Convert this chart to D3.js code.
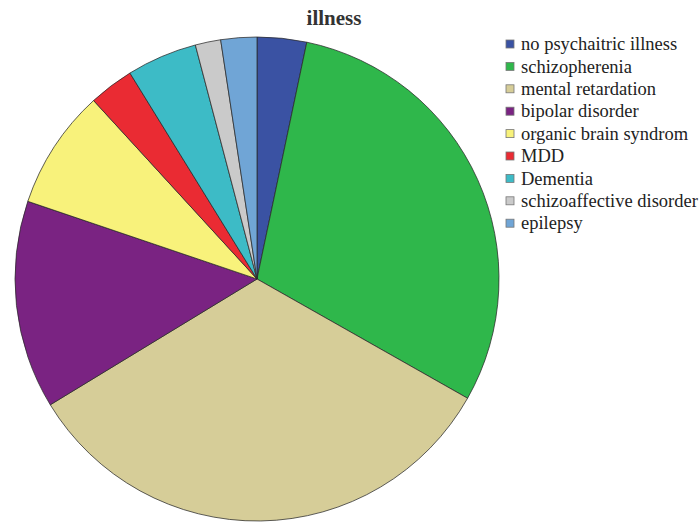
<!DOCTYPE html>
<html>
<head>
<meta charset="utf-8">
<script src="https://cdn.jsdelivr.net/npm/d3@7"></script>
<style>
  html, body { margin: 0; padding: 0; background: #fff; }
  svg { display: block; }
  text { font-family: "Liberation Serif", "Times New Roman", Times, "DejaVu Serif", serif; }
</style>
</head>
<body>
<svg id="chart" width="699" height="523"></svg>
<script>
// Data (percent of cases)
const categories = [
  "no psychaitric illness",
  "schizopherenia",
  "mental retardation",
  "bipolar disorder",
  "organic brain syndrom",
  "MDD",
  "Dementia",
  "schizoaffective disorder",
  "epilepsy"
];
const values = [3.3, 29.9, 33.1, 13.9, 8.0, 3.0, 4.7, 1.7, 2.4];
const colors = ["#3a52a3", "#2fb74b", "#d6cd98", "#7a2382", "#f8f27b", "#ea2b33", "#3dbbc6", "#cacaca", "#70a5d6"];
const title = "illness";

const svg = d3.select("#chart");
const cx = 257, cy = 279, R = 242;

const data = categories.map((c, i) => ({ name: c, value: values[i], color: colors[i] }));

const pie = d3.pie().value(d => d.value).sort(null).startAngle(0).endAngle(2 * Math.PI);
const arc = d3.arc().innerRadius(0).outerRadius(R);

const g = svg.append("g").attr("transform", `translate(${cx},${cy})`);
g.selectAll("path")
  .data(pie(data))
  .join("path")
  .attr("d", arc)
  .attr("fill", d => d.data.color)
  .attr("stroke", "#2a2a2a")
  .attr("stroke-opacity", 0.75)
  .attr("stroke-width", 1);

// title
svg.append("text")
  .attr("x", 334)
  .attr("y", 25)
  .attr("text-anchor", "middle")
  .attr("font-size", 21)
  .attr("font-weight", "bold")
  .attr("fill", "#333")
  .text(title);

// legend
const legend = svg.append("g").attr("transform", "translate(506,44)");
const rowH = 22.4;
const items = legend.selectAll("g")
  .data(data)
  .join("g")
  .attr("transform", (d, i) => `translate(0,${i * rowH})`);
items.append("rect")
  .attr("x", 0).attr("y", -4)
  .attr("width", 8).attr("height", 8)
  .attr("fill", d => d.color)
  .attr("stroke", "#777")
  .attr("stroke-width", 0.8);
items.append("text")
  .attr("x", 15)
  .attr("y", 0)
  .attr("dy", "0.33em")
  .attr("font-size", 18.5)
  .attr("fill", "#222")
  .text(d => d.name);
</script>
</body>
</html>
